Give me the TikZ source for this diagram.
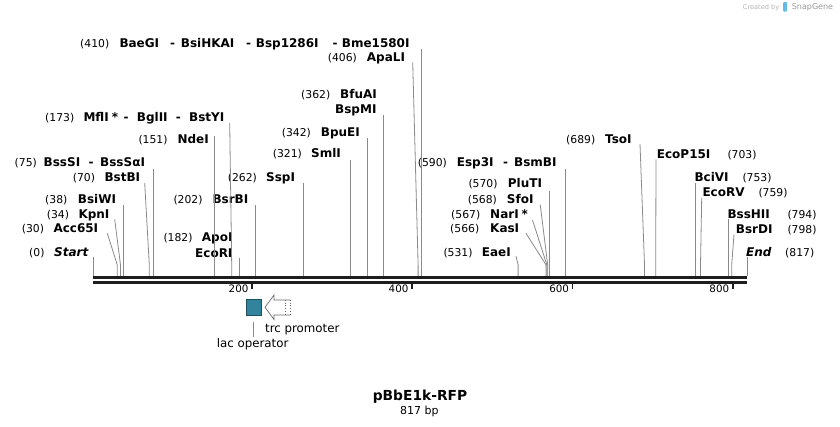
\documentclass[tikz,border=0pt]{standalone}
\usepackage{fontspec}
\setmainfont{DejaVu Sans}[BoldFont={DejaVu Sans Bold},ItalicFont={DejaVu Sans Oblique},BoldItalicFont={DejaVu Sans Bold Oblique}]
\definecolor{sitegray}{HTML}{8A8A8A}
\definecolor{bbcol}{HTML}{1E1E1E}
\definecolor{laccol}{HTML}{31849B}
\definecolor{lacedge}{HTML}{1F4F5C}
\definecolor{arrowcol}{HTML}{6A6A6A}
\definecolor{logoblue}{HTML}{62BDE6}
\newcommand\mylbl[5]{\node[#1] (#2) at (#3,#4) {#5};}
\begin{document}
\begin{tikzpicture}[x=1pt,y=-1pt,
  num/.style={inner sep=0pt,anchor=base west,font=\fontsize{10.8}{12}\selectfont},
  nm/.style={inner sep=0pt,anchor=base west,font=\fontsize{12}{14}\selectfont\bfseries},
  nmi/.style={inner sep=0pt,anchor=base west,font=\fontsize{12}{14}\selectfont\bfseries\itshape},
  ticklab/.style={inner sep=0pt,anchor=base east,font=\fontsize{10.3}{12}\selectfont},
  featlab/.style={inner sep=0pt,anchor=base west,font=\fontsize{11.8}{14}\selectfont},
  siteline/.style={draw=sitegray,line width=0.8pt},
  backbone/.style={draw=bbcol,line width=3.1pt},
  tickmark/.style={draw=bbcol,line width=1.6pt}]
\useasboundingbox (0,0) rectangle (840,426);

% ---------- labels ----------
\mylbl{num}{n410}{80}{47.1}{(410)}
\mylbl{nm}{a410}{119.3}{47.1}{BaeGI}
\mylbl{nm}{d410a}{170}{47.1}{-}
\mylbl{nm}{b410}{180.7}{47.1}{BsiHKAI}
\mylbl{nm}{d410b}{246}{47.1}{-}
\mylbl{nm}{c410}{255.7}{47.1}{Bsp1286I}
\mylbl{nm}{d410c}{332.3}{47.1}{-}
\mylbl{nm}{e410}{341.7}{47.1}{Bme1580I}

\mylbl{num}{n406}{327.7}{61.1}{(406)}
\mylbl{nm}{a406}{366.7}{61.1}{ApaLI}

\mylbl{num}{n362}{301}{98.7}{(362)}
\mylbl{nm}{a362}{340}{98.7}{BfuAI}
\mylbl{nm}{b362}{335}{113.4}{BspMI}

\mylbl{num}{n173}{45}{121.7}{(173)}
\mylbl{nm}{a173}{83.3}{121.7}{MflI\hspace{3pt}*}
\mylbl{nm}{d173a}{123.3}{121.7}{-}
\mylbl{nm}{b173}{136.7}{121.7}{BglII}
\mylbl{nm}{d173b}{175.7}{121.7}{-}
\mylbl{nm}{c173}{189}{121.7}{BstYI}

\mylbl{num}{n151}{138.3}{143.7}{(151)}
\mylbl{nm}{a151}{177.3}{143.7}{NdeI}

\mylbl{num}{n342}{281.7}{136.7}{(342)}
\mylbl{nm}{a342}{320.7}{136.7}{BpuEI}

\mylbl{num}{n689}{566}{143.4}{(689)}
\mylbl{nm}{a689}{605}{143.4}{TsoI}

\mylbl{num}{n321}{272.7}{157.7}{(321)}
\mylbl{nm}{a321}{311}{157.7}{SmlI}

\mylbl{nm}{a703}{656.7}{158.4}{EcoP15I}
\mylbl{num}{n703}{727.3}{158.4}{(703)}

\mylbl{num}{n75}{14.5}{166.1}{(75)}
\mylbl{nm}{a75}{43.5}{166.1}{BssSI}
\mylbl{nm}{d75}{88.5}{166.1}{-}
\mylbl{nm}{b75}{100}{166.1}{BssSαI}

\mylbl{num}{n590}{417.7}{166.1}{(590)}
\mylbl{nm}{a590}{456.7}{166.1}{Esp3I}
\mylbl{nm}{d590}{503}{166.1}{-}
\mylbl{nm}{b590}{514}{166.1}{BsmBI}

\mylbl{num}{n70}{72.7}{181.7}{(70)}
\mylbl{nm}{a70}{104.3}{181.7}{BstBI}

\mylbl{num}{n262}{227.7}{181.1}{(262)}
\mylbl{nm}{a262}{266}{181.1}{SspI}

\mylbl{nm}{a753}{694.3}{181.7}{BciVI}
\mylbl{num}{n753}{742.3}{181.7}{(753)}

\mylbl{num}{n570}{468.3}{187.7}{(570)}
\mylbl{nm}{a570}{507.7}{187.7}{PluTI}

\mylbl{nm}{a759}{702.3}{196.7}{EcoRV}
\mylbl{num}{n759}{758.3}{196.7}{(759)}

\mylbl{num}{n38}{45}{203.4}{(38)}
\mylbl{nm}{a38}{77.7}{203.4}{BsiWI}

\mylbl{num}{n202}{173.3}{203.7}{(202)}
\mylbl{nm}{a202}{212.3}{203.7}{BsrBI}

\mylbl{num}{n568}{467.7}{203.4}{(568)}
\mylbl{nm}{a568}{506.7}{203.4}{SfoI}

\mylbl{num}{n34}{46.7}{218.4}{(34)}
\mylbl{nm}{a34}{78.3}{218.4}{KpnI}

\mylbl{num}{n567}{451}{218.4}{(567)}
\mylbl{nm}{a567}{490}{218.4}{NarI\hspace{3pt}*}

\mylbl{nm}{a794}{727.3}{218.7}{BssHII}
\mylbl{num}{n794}{787.3}{218.7}{(794)}

\mylbl{num}{n30}{21.7}{232.7}{(30)}
\mylbl{nm}{a30}{53.3}{232.7}{Acc65I}

\mylbl{num}{n566}{450}{232.7}{(566)}
\mylbl{nm}{a566}{490}{232.7}{KasI}

\mylbl{nm}{a798}{735.7}{233.4}{BsrDI}
\mylbl{num}{n798}{787.3}{233.4}{(798)}

\mylbl{num}{n182}{163.3}{241.1}{(182)}
\mylbl{nm}{a182}{201.7}{241.1}{ApoI}
\mylbl{nm}{b182}{195}{257.1}{EcoRI}

\mylbl{num}{n0}{29}{256.1}{(0)}
\mylbl{nmi}{a0}{54}{256.1}{Start}

\mylbl{num}{n531}{443.3}{256.7}{(531)}
\mylbl{nm}{a531}{481.7}{256.7}{EaeI}

\mylbl{nmi}{a817}{746}{256.7}{End}
\mylbl{num}{n817}{785}{256.7}{(817)}

% ---------- site connectors ----------
\foreach \n/\tx/\ty/\sx in {
  s0/93.3/256.7/93.3, s30/107.3/233.3/117.3, s34/114.7/219.3/120.5,
  s38/123.5/205/123.5, s70/144.7/183/149.3, s75/153.3/169/153.3,
  s151/214.1/135.7/214.1, s173/229.7/123/231.7, s182/238.9/257.7/238.9,
  s202/254.9/205/254.9, s262/302.9/183.3/302.9, s321/350.1/160/350.1,
  s342/366.9/138.3/366.9, s362/382.9/115/382.9, s406/412.7/62.3/418.1,
  s410/421.3/49.3/421.3, s531/516/256/518.1, s566/526/233.3/546.1,
  s567/532.5/220/546.9, s568/540.2/204.5/547.7, s570/549.3/190.7/549.3,
  s590/565.3/169/565.3, s689/640/144/644.5, s703/656/159.3/655.7,
  s753/695.7/182.7/695.7, s759/701.7/197.7/700.5, s794/728.5/219.3/728.5,
  s798/734/234.3/731.7, s817/746.9/256.7/746.9} {
  \coordinate (t\n) at (\tx,\ty);
  \coordinate (m\n) at (\sx,265);
  \coordinate (b\n) at (\sx,276);
  \draw[siteline] (t\n) -- (m\n) -- (b\n);
}

% ---------- backbone ----------
\coordinate (bbLa) at (93.3,277.4);
\coordinate (bbRa) at (746.9,277.4);
\coordinate (bbLb) at (93.3,282.2);
\coordinate (bbRb) at (746.9,282.2);
\draw[backbone] (bbLa) -- (bbRa);
\draw[backbone] (bbLb) -- (bbRb);

\foreach \tx/\tl in {252/200,412/400,572.6/600,732.7/800} {
  \coordinate (tk\tl a) at (\tx,282);
  \coordinate (tk\tl b) at (\tx,289);
  \draw[tickmark] (tk\tl a) -- (tk\tl b);
  \node[ticklab] (tl\tl) at (\tx-3.4,292.7) {\tl};
}

% ---------- features ----------
\node[draw=lacedge,fill=laccol,line width=0.8pt,minimum width=14.2pt,minimum height=15.8pt,inner sep=0pt,anchor=north west] (lacop) at (246.3,299.3) {};
\coordinate (lacA) at (253.3,321.7);
\coordinate (lacB) at (253.3,337.3);
\draw[sitegray,line width=0.8pt] (lacA) -- (lacB);
\node[featlab] (laclab) at (216.7,347.6) {lac operator};

\draw[arrowcol,fill=white,line width=0.7pt,line join=miter]
  (290,300) -- (274,300) -- (274,295) -- (265,307.3) -- (274,319.5) -- (274,315) -- (290,315);
\draw[arrowcol,line width=0.7pt,dotted] (290,300) -- (290,315);
\draw[arrowcol,line width=0.7pt,dotted] (285,300) -- (285,315);
\node[featlab] (trclab) at (265,332.5) {trc promoter};

% ---------- title ----------
\node[inner sep=0pt,anchor=base,font=\fontsize{13.8}{16}\selectfont\bfseries] (title) at (420,400.6) {pBbE1k-RFP};
\node[inner sep=0pt,anchor=base,font=\fontsize{11}{13}\selectfont] (bp) at (419.3,414.3) {817 bp};

% ---------- logo ----------
\node[inner sep=0pt,anchor=base west,font=\fontsize{6.6}{8}\selectfont,text=black!30] (created) at (742.7,9.2) {Created by};
\fill[logoblue,rounded corners=1pt] (783,2) rectangle (787,11.5);
\node[inner sep=0pt,anchor=base west,font=\fontsize{8}{10}\selectfont,text=black!40] (sg) at (791.7,9.8) {SnapGene};
\end{tikzpicture}
\end{document}
